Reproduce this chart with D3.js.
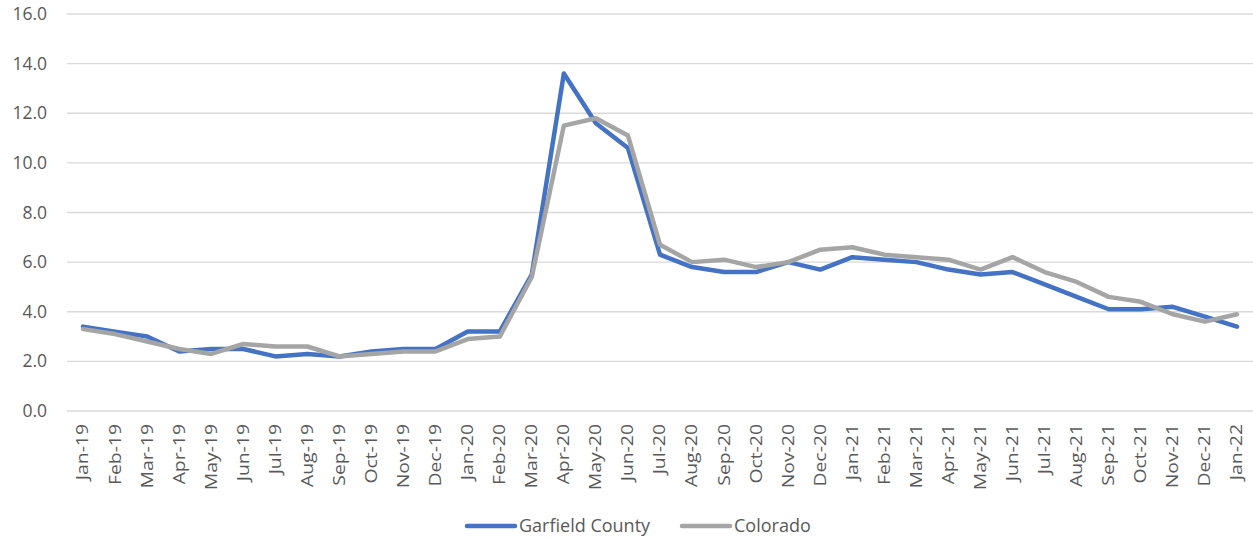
<!DOCTYPE html>
<html>
<head>
<meta charset="utf-8">
<script src="https://cdn.jsdelivr.net/npm/d3@7"></script>
<style>
  html, body { margin: 0; padding: 0; background: #fff; }
  svg { display: block; }
  text { font-family: "Open Sans", "Liberation Sans", sans-serif; fill: #595959; }
</style>
</head>
<body>
<svg id="chart" width="1253" height="539"></svg>
<script>
// Monthly unemployment rate (%), Jan 2019 – Jan 2022
const months = [
  "Jan-19","Feb-19","Mar-19","Apr-19","May-19","Jun-19","Jul-19","Aug-19","Sep-19","Oct-19","Nov-19","Dec-19",
  "Jan-20","Feb-20","Mar-20","Apr-20","May-20","Jun-20","Jul-20","Aug-20","Sep-20","Oct-20","Nov-20","Dec-20",
  "Jan-21","Feb-21","Mar-21","Apr-21","May-21","Jun-21","Jul-21","Aug-21","Sep-21","Oct-21","Nov-21","Dec-21",
  "Jan-22"
];
const garfield = [
  3.4, 3.2, 3.0, 2.4, 2.5, 2.5, 2.2, 2.3, 2.2, 2.4, 2.5, 2.5,
  3.2, 3.2, 5.5, 13.6, 11.6, 10.6, 6.3, 5.8, 5.6, 5.6, 6.0, 5.7,
  6.2, 6.1, 6.0, 5.7, 5.5, 5.6, 5.1, 4.6, 4.1, 4.1, 4.2, 3.8,
  3.4
];
const colorado = [
  3.3, 3.1, 2.8, 2.5, 2.3, 2.7, 2.6, 2.6, 2.2, 2.3, 2.4, 2.4,
  2.9, 3.0, 5.4, 11.5, 11.8, 11.1, 6.7, 6.0, 6.1, 5.8, 6.0, 6.5,
  6.6, 6.3, 6.2, 6.1, 5.7, 6.2, 5.6, 5.2, 4.6, 4.4, 3.9, 3.6,
  3.9
];
const yTicks = [0, 2, 4, 6, 8, 10, 12, 14, 16];
const seriesNames = ["Garfield County", "Colorado"];
const seriesColors = ["#4472C4", "#A5A5A5"];

const svg = d3.select("#chart");
const plot = { left: 67, right: 1253, top: 14, bottom: 411 };

const x = d3.scaleBand().domain(months).range([plot.left, plot.right]);
const y = d3.scaleLinear().domain([0, 16]).range([plot.bottom, plot.top]);

// Horizontal gridlines
svg.append("g")
  .selectAll("line")
  .data(yTicks)
  .join("line")
  .attr("x1", plot.left)
  .attr("x2", plot.right)
  .attr("y1", d => y(d))
  .attr("y2", d => y(d))
  .attr("stroke", "#D9D9D9")
  .attr("stroke-width", 1.3);

// Y axis labels
const yAxis = d3.axisLeft(y).tickValues(yTicks).tickFormat(d3.format(".1f")).tickSize(0).tickPadding(20);
const gy = svg.append("g").attr("transform", `translate(${plot.left},0)`).call(yAxis);
gy.select(".domain").remove();
gy.selectAll("text").attr("font-size", 17.5).attr("fill", "#595959")
  .style("font-family", '"Open Sans", "Liberation Sans", sans-serif');

// X axis labels, rotated and drawn slightly elongated
const xAxis = d3.axisBottom(x).tickSize(0).tickPadding(0);
const gx = svg.append("g").attr("transform", `translate(0,${plot.bottom})`).call(xAxis);
gx.select(".domain").remove();
gx.selectAll("text")
  .attr("font-size", 15.5)
  .attr("fill", "#595959")
  .style("font-family", '"Open Sans", "Liberation Sans", sans-serif')
  .attr("text-anchor", "end")
  .attr("dy", "0.35em")
  .attr("transform", "translate(0,13) rotate(-90) scale(1.25,1)")
  .attr("x", 0)
  .attr("y", 0);

// Lines
const line = d3.line()
  .x((d, i) => x(months[i]) + x.bandwidth() / 2)
  .y(d => y(d));

[garfield, colorado].forEach((series, k) => {
  svg.append("path")
    .datum(series)
    .attr("fill", "none")
    .attr("stroke", seriesColors[k])
    .attr("stroke-width", 4.5)
    .attr("stroke-linejoin", "round")
    .attr("stroke-linecap", "round")
    .attr("d", line);
});

// Legend
const legendItems = [
  { name: seriesNames[0], color: seriesColors[0], x: 467 },
  { name: seriesNames[1], color: seriesColors[1], x: 682 }
];
const lg = svg.append("g");
legendItems.forEach(item => {
  lg.append("line")
    .attr("x1", item.x).attr("x2", item.x + 48)
    .attr("y1", 526).attr("y2", 526)
    .attr("stroke", item.color)
    .attr("stroke-width", 4.5)
    .attr("stroke-linecap", "round");
  lg.append("text")
    .attr("x", item.x + 52)
    .attr("y", 526)
    .attr("dy", "0.35em")
    .attr("font-size", 18)
    .text(item.name);
});
</script>
</body>
</html>
